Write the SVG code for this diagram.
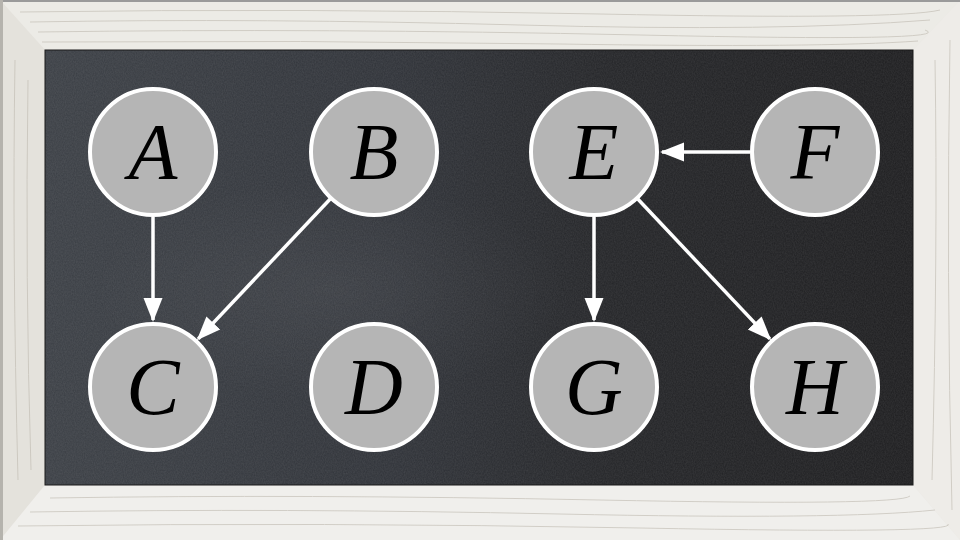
<svg xmlns="http://www.w3.org/2000/svg" width="960" height="540" viewBox="0 0 960 540">
  <defs>
    <linearGradient id="board" x1="0" y1="0" x2="1" y2="0">
      <stop offset="0" stop-color="#3b3f45"/>
      <stop offset="0.4" stop-color="#2f3238"/>
      <stop offset="0.65" stop-color="#232427"/>
      <stop offset="1" stop-color="#1d1d1f"/>
    </linearGradient>
    <radialGradient id="smudge" cx="0.5" cy="0.5" r="0.5">
      <stop offset="0" stop-color="#ffffff" stop-opacity="0.05"/>
      <stop offset="1" stop-color="#ffffff" stop-opacity="0"/>
    </radialGradient>
    <filter id="grain" x="0" y="0" width="100%" height="100%">
      <feTurbulence type="fractalNoise" baseFrequency="0.9 0.6" numOctaves="2" seed="3"/>
      <feColorMatrix type="matrix" values="0 0 0 0 1  0 0 0 0 1  0 0 0 0 1  0 0 0 0.1 0"/>
    </filter>
    <marker id="arrow" markerUnits="userSpaceOnUse" markerWidth="26" markerHeight="22" viewBox="0 0 26 22" refX="22" refY="11" orient="auto">
      <path d="M0,1.5 L24,11 L0,20.5 z" fill="#ffffff"/>
    </marker>
    <style>
      .node circle { fill: #b5b5b5; stroke: #ffffff; stroke-width: 4; }
      .node text { font-family: "Liberation Serif", "DejaVu Serif", serif; font-style: italic; font-size: 80px; fill: #000000; text-anchor: middle; }
      .edge { stroke: #ffffff; stroke-width: 3.5; fill: none; marker-end: url(#arrow); }
      .wood { stroke: #bdb8ae; stroke-width: 1; fill: none; opacity: 0.6; }
    </style>
  </defs>

  <!-- frame -->
  <rect x="0" y="0" width="960" height="540" fill="#e9e7e2"/>
  <polygon points="0,0 960,0 913,50 45,50" fill="#ecebe6"/>
  <polygon points="0,0 45,50 45,485 0,540" fill="#e4e2dc"/>
  <polygon points="960,0 960,540 913,485 913,50" fill="#eeece8"/>
  <polygon points="0,540 960,540 913,485 45,485" fill="#f0efec"/>
  <rect x="0" y="0" width="960" height="2" fill="#9a9a9a"/>
  <rect x="0" y="0" width="3" height="540" fill="#b5b3ad"/>
  <g class="wood">
    <path d="M20,12 Q300,8 600,14 T940,10"/>
    <path d="M30,22 Q260,18 520,25 T930,20"/>
    <path d="M38,32 Q320,28 640,35 T925,30"/>
    <path d="M42,42 Q300,40 560,44 T918,41"/>
    <path d="M50,498 Q300,494 600,500 T910,496"/>
    <path d="M30,512 Q280,508 560,514 T935,510"/>
    <path d="M18,526 Q320,522 640,528 T948,524"/>
    <path d="M15,60 Q12,250 18,480"/>
    <path d="M28,80 Q25,280 31,470"/>
    <path d="M935,60 Q938,250 932,480"/>
    <path d="M950,40 Q946,270 952,510"/>
  </g>

  <!-- board -->
  <rect x="45" y="50" width="868" height="435" fill="url(#board)"/>
  <ellipse cx="330" cy="290" rx="240" ry="110" fill="url(#smudge)"/>
  <rect x="45" y="50" width="868" height="435" filter="url(#grain)"/>
  <rect x="45" y="50" width="868" height="435" fill="none" stroke="#1a1a1a" stroke-width="1"/>

  <!-- connectors -->
  <g id="connectors">
    <line class="edge" x1="153" y1="217" x2="153" y2="320"/>
    <line class="edge" x1="330.2" y1="199" x2="198.2" y2="338.9"/>
    <line class="edge" x1="750" y1="152" x2="662" y2="152"/>
    <line class="edge" x1="594" y1="217" x2="594" y2="320"/>
    <line class="edge" x1="637.8" y1="199" x2="769.8" y2="338.9"/>
  </g>

  <!-- nodes -->
  <g id="node-A" class="node"><circle cx="153" cy="152" r="63"/><text x="153" y="179">A</text></g>
  <g id="node-B" class="node"><circle cx="374" cy="152" r="63"/><text x="374" y="179">B</text></g>
  <g id="node-E" class="node"><circle cx="594" cy="152" r="63"/><text x="594" y="179">E</text></g>
  <g id="node-F" class="node"><circle cx="815" cy="152" r="63"/><text x="815" y="179">F</text></g>
  <g id="node-C" class="node"><circle cx="153" cy="387" r="63"/><text x="153" y="414">C</text></g>
  <g id="node-D" class="node"><circle cx="374" cy="387" r="63"/><text x="374" y="414">D</text></g>
  <g id="node-G" class="node"><circle cx="594" cy="387" r="63"/><text x="594" y="414">G</text></g>
  <g id="node-H" class="node"><circle cx="815" cy="387" r="63"/><text x="815" y="414">H</text></g>
</svg>
